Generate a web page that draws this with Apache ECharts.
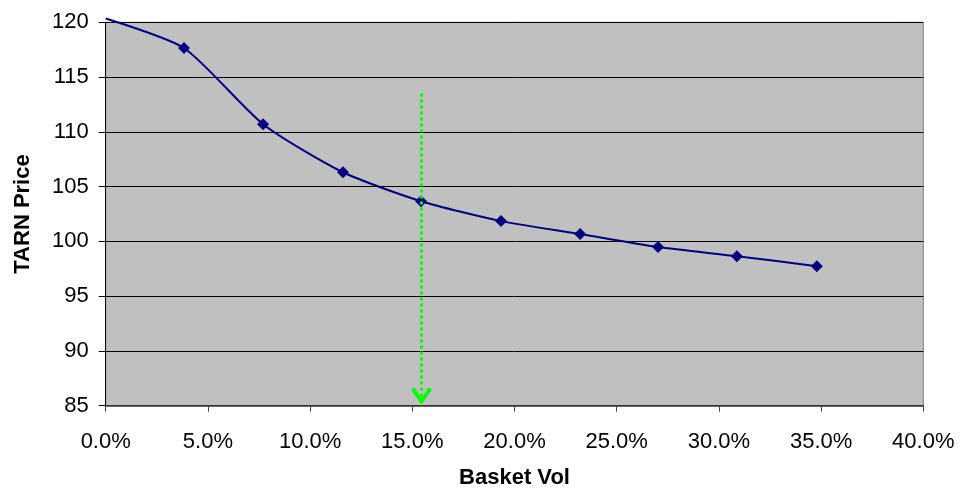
<!DOCTYPE html>
<html>
<head>
<meta charset="utf-8">
<script src="https://cdn.jsdelivr.net/npm/echarts@6/dist/echarts.min.js"></script>
<style>
html,body{margin:0;padding:0;background:#fff;}
#chart{width:960px;height:489px;}
</style>
</head>
<body>
<div id="chart"></div>
<script>
// Data (basket vol in %, TARN price)
var basketVol = [0, 3.83, 7.70, 11.61, 15.43, 19.34, 23.21, 27.02, 30.88, 34.79];
var tarnPrice = [120.35, 117.65, 110.70, 106.31, 103.67, 101.85, 100.67, 99.48, 98.65, 97.74];
var showMarker = [false, true, true, true, true, true, true, true, true, true];
var yTicks = [85, 90, 95, 100, 105, 110, 115, 120];
var xTicks = [0, 5, 10, 15, 20, 25, 30, 35, 40];
// Green arrow annotation
var arrowVol = 15.45;
var arrowFrom = 113.5;
var arrowTo = 85;

var font = '"Liberation Sans", Arial, sans-serif';
var chart = echarts.init(document.getElementById('chart'), null, {renderer: 'canvas'});

var mainData = basketVol.map(function (v, i) {
  return showMarker[i] ? {value: [v, tarnPrice[i]]} : {value: [v, tarnPrice[i]], symbol: 'none'};
});

var option = {
  animation: false,
  backgroundColor: '#ffffff',
  grid: {
    left: 105.7, right: 36.7, top: 22.3, bottom: 83.3,
    containLabel: false, outerBoundsMode: 'none',
    show: true, backgroundColor: '#C0C0C0', borderColor: '#808080', borderWidth: 1
  },
  xAxis: {
    type: 'value',
    min: xTicks[0], max: xTicks[xTicks.length - 1], interval: 5,
    name: 'Basket Vol', nameLocation: 'middle', nameGap: 61,
    nameTextStyle: {fontFamily: font, fontSize: 22, fontWeight: 'bold', color: '#000'},
    axisLine: {show: true, lineStyle: {color: '#404040', width: 1.5}},
    axisTick: {show: true, inside: false, length: 6, lineStyle: {color: '#404040'}},
    axisLabel: {
      fontFamily: font, fontSize: 22, color: '#000', margin: 25,
      formatter: function (v) { return v.toFixed(1) + '%'; }
    },
    splitLine: {show: false}
  },
  yAxis: {
    type: 'value',
    min: yTicks[0], max: yTicks[yTicks.length - 1], interval: 5,
    name: 'TARN Price', nameLocation: 'middle', nameGap: 72, nameRotate: 90,
    nameTextStyle: {fontFamily: font, fontSize: 22, fontWeight: 'bold', color: '#000'},
    axisLine: {show: true, lineStyle: {color: '#000', width: 1}},
    axisTick: {show: true, inside: false, length: 7, lineStyle: {color: '#000'}},
    axisLabel: {fontFamily: font, fontSize: 22, color: '#000', margin: 17},
    splitLine: {show: true, lineStyle: {color: '#000', width: 1}}
  },
  series: [
    {
      type: 'line',
      data: mainData,
      smooth: 0.22,
      clip: false,
      symbol: 'diamond',
      symbolSize: 12,
      itemStyle: {color: '#000080'},
      lineStyle: {color: '#000080', width: 2},
      z: 3
    },
    {
      type: 'line',
      data: [
        {value: [arrowVol, arrowFrom], symbol: 'none'},
        {value: [arrowVol, arrowTo],
         symbol: 'path://M0,2 L3.8,0 L10.5,12 L17.2,0 L21,2 L10.5,19 Z',
         symbolSize: [21, 19], symbolOffset: [0, '-50%'], symbolKeepAspect: true}
      ],
      itemStyle: {color: '#00FF00'},
      lineStyle: {color: '#00FF00', width: 3, type: [3, 3]},
      z: 5
    }
  ]
};
chart.setOption(option);
</script>
</body>
</html>
